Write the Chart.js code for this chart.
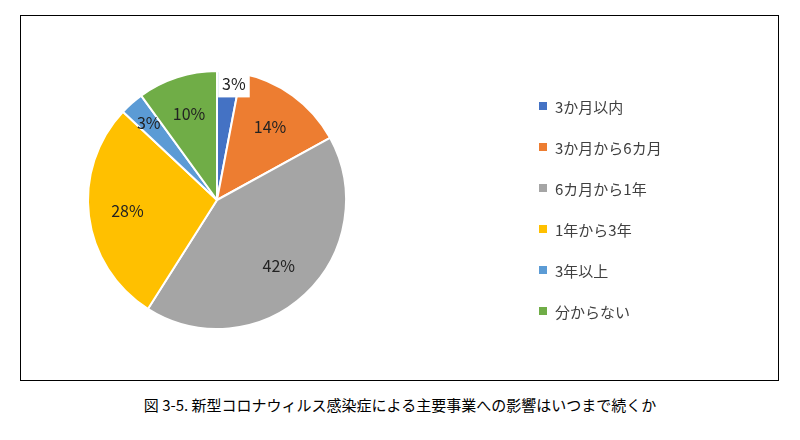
<!DOCTYPE html>
<html><head><meta charset="utf-8">
<script src="https://cdn.jsdelivr.net/npm/chart.js@4"></script>
<style>
body{margin:0;width:800px;height:440px;background:#fff;font-family:"Noto Sans CJK JP",sans-serif;}
#box{position:absolute;left:20px;top:15px;width:757px;height:364px;border:1px solid #000;}
#legend{position:absolute;left:518px;top:80px;font-size:15px;color:#404040;}
#legend div{height:41px;display:flex;align-items:flex-start;}
#legend span{display:inline-block;width:8px;height:8px;margin:6px 8px 0 0;}
#cap{position:absolute;left:0;width:800px;top:394px;text-align:center;font-size:15px;color:#000;}
</style></head><body>
<div id="box"><canvas id="pie" width="757" height="364"></canvas><div id="legend"></div></div>
<div id="cap">図 3-5. 新型コロナウィルス感染症による主要事業への影響はいつまで続くか</div>
<script>
const categorias = ["3か月以内", "3か月から6カ月", "6カ月から1年", "1年から3年", "3年以上", "分からない"];
const valores = [3, 14, 42, 28, 3, 10];
const cores = ["#4472C4", "#ED7D31", "#A5A5A5", "#FFC000", "#5B9BD5", "#70AD47"];

const leg = document.getElementById("legend");
categorias.forEach((c, i) => {
  leg.innerHTML += '<div><span style="background:' + cores[i] + '"></span>' + c + '</div>';
});

const rotulos = {
  id: "rotulos",
  afterDatasetsDraw(chart) {
    const ctx = chart.ctx;
    ctx.save();
    ctx.font = '16px "Noto Sans CJK JP", sans-serif';
    ctx.textAlign = "center";
    ctx.textBaseline = "middle";
    chart.getDatasetMeta(0).data.forEach((arc, i) => {
      const a = (arc.startAngle + arc.endAngle) / 2;
      const f = i == 0 ? 0.9 : i == 4 ? 0.8 : 0.7;
      let x = arc.x + Math.cos(a) * arc.outerRadius * f;
      const y = arc.y + Math.sin(a) * arc.outerRadius * f;
      const t = valores[i] + "%";
      if (i == 0) {
        x += 6;
        const w = ctx.measureText(t).width + 8;
        ctx.fillStyle = "#fff";
        ctx.fillRect(x - w / 2, y - 13, w, 26);
      }
      ctx.fillStyle = "#222";
      ctx.fillText(t, x, y);
    });
    ctx.restore();
  }
};

new Chart(document.getElementById("pie"), {
  type: "pie",
  data: {
    labels: categorias,
    datasets: [{ data: valores, backgroundColor: cores, borderColor: "#fff", borderWidth: 2 }]
  },
  options: {
    responsive: false,
    animation: false,
    layout: { padding: { left: 0, right: 365, top: 54, bottom: 50 } },
    plugins: { legend: { display: false }, tooltip: { enabled: false } }
  },
  plugins: [rotulos]
});
</script>
</body></html>
